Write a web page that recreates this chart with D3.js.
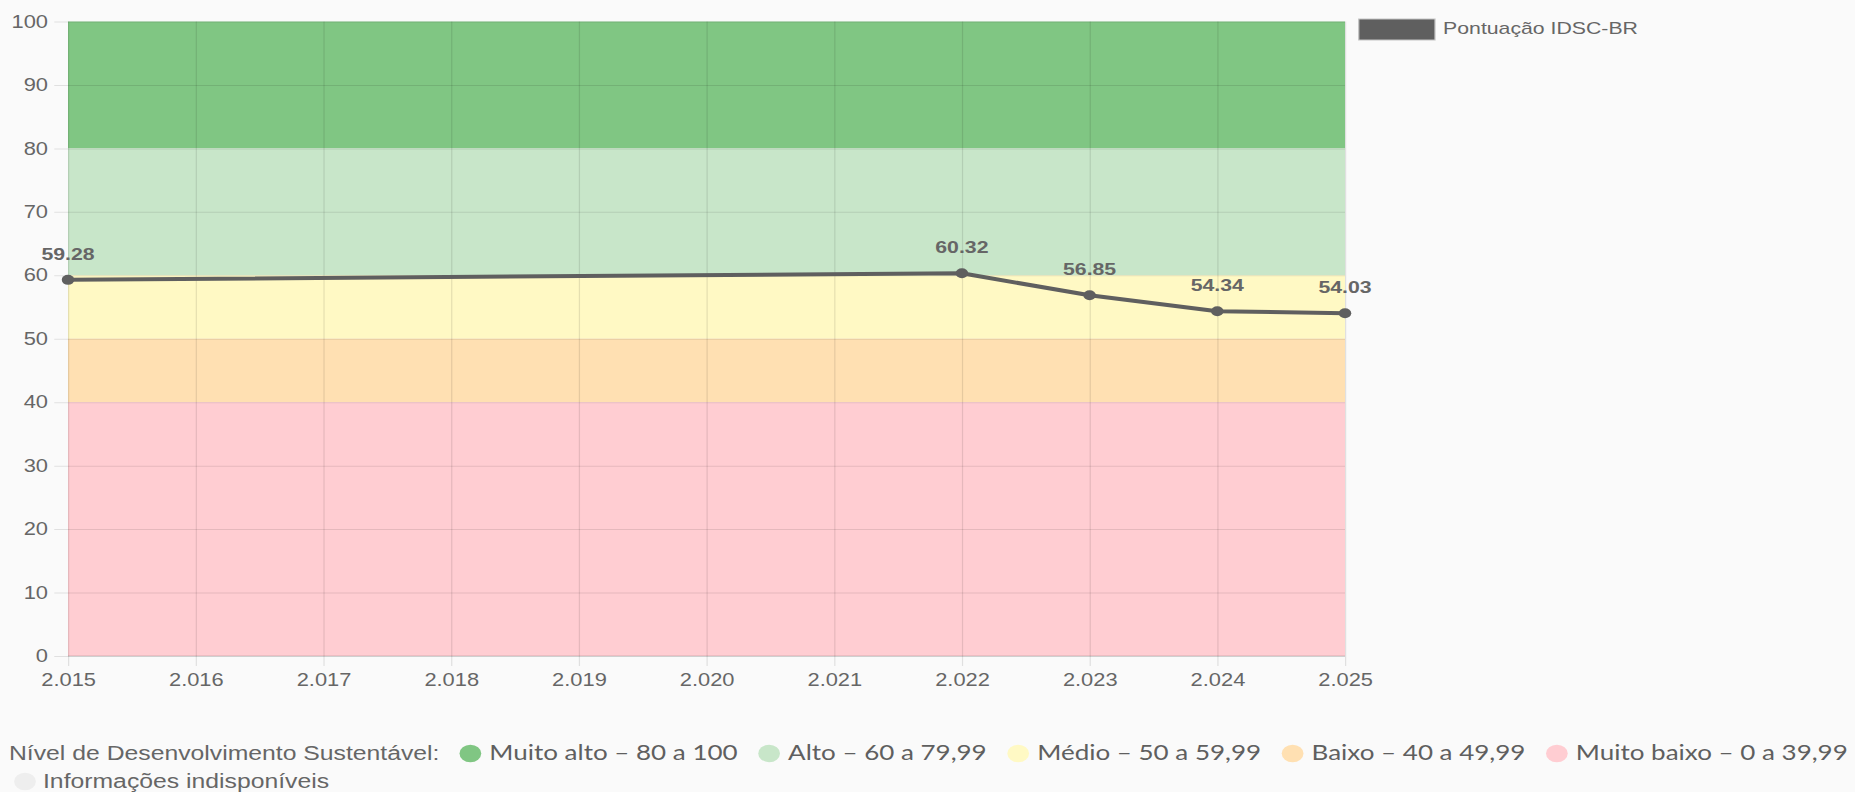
<!DOCTYPE html>
<html>
<head>
<meta charset="utf-8">
<script src="https://cdn.jsdelivr.net/npm/d3@7"></script>
<style>
body { margin: 0; background: #fafafa; overflow: hidden; }
</style>
</head>
<body>
<div id="chart"></div>
<script>
// data
var years = [2015, 2016, 2017, 2018, 2019, 2020, 2021, 2022, 2023, 2024, 2025]
var scores = [59.28, null, null, null, null, null, null, 60.32, 56.85, 54.34, 54.03]
var yTicks = [0, 10, 20, 30, 40, 50, 60, 70, 80, 90, 100]
var bandNames = ["Muito alto", "Alto", "Médio", "Baixo", "Muito baixo"]
var bandFrom = [80, 60, 50, 40, 0]
var bandTo = [100, 80, 60, 50, 40]
var bandRanges = ["80 a 100", "60 a 79,99", "50 a 59,99", "40 a 49,99", "0 a 39,99"]
var seriesName = "Pontuação IDSC-BR"
var legendTitle = "Nível de Desenvolvimento Sustentável:"
var missingLabel = "Informações indisponíveis"

var bandColors = ["#80c683", "#c8e6c9", "#fff9c4", "#ffe0b2", "#ffcdd2"]
var missingColor = "#eeeeee"
var lineColor = "#5f5f5f"

// the reference is stretched sideways, so draw in a narrower viewBox and let it stretch
var width = 1855, height = 792, stretch = 1.25
var vw = width / stretch
var plotL = 54.4, plotR = 1076, plotT = 21.5, plotB = 656

var svg = d3.select("#chart")
  .append("svg")
    .attr("width", width)
    .attr("height", height)
    .attr("viewBox", "0 0 " + vw + " " + height)
    .attr("preserveAspectRatio", "none")

var x = d3.scaleLinear().domain([years[0], years[years.length - 1]]).range([plotL, plotR])
var y = d3.scaleLinear().domain([0, 100]).range([plotB, plotT])

var ptBR = d3.formatLocale({decimal: ",", thousands: ".", grouping: [3], currency: ["R$", ""]})
var yearFmt = ptBR.format(",d")

// colour bands
svg.selectAll("rect.band")
  .data(bandFrom)
  .join("rect")
    .attr("class", "band")
    .attr("x", x(years[0]))
    .attr("width", x(years[years.length - 1]) - x(years[0]))
    .attr("y", function(d, i) { return y(bandTo[i]) })
    .attr("height", function(d, i) { return y(d) - y(bandTo[i]) })
    .attr("fill", function(d, i) { return bandColors[i] })

var axisFont = "'Liberation Sans', Arial, Helvetica, sans-serif"

// y axis + horizontal grid
var gy = svg.append("g")
  .attr("transform", "translate(" + plotL + ",0)")
  .call(d3.axisLeft(y).tickValues(yTicks).tickSizeInner(-(plotR - plotL)).tickSizeOuter(0).tickPadding(16))
gy.select(".domain").remove()
gy.selectAll(".tick line")
  .attr("x1", -11)
  .attr("stroke", "rgba(0,0,0,0.1)")
gy.selectAll(".tick text")
  .attr("fill", "#666")
  .style("font-family", axisFont)
  .style("font-size", "17.5px")

// x axis + vertical grid
var gx = svg.append("g")
  .attr("transform", "translate(0," + plotB + ")")
  .call(d3.axisBottom(x).tickValues(years).tickFormat(yearFmt).tickSizeInner(-(plotB - plotT)).tickSizeOuter(0).tickPadding(18))
gx.select(".domain").remove()
gx.selectAll(".tick line")
  .attr("y1", 10)
  .attr("stroke", "rgba(0,0,0,0.1)")
gx.selectAll(".tick text")
  .attr("fill", "#666")
  .style("font-family", axisFont)
  .style("font-size", "17.5px")

svg.append("line")
  .attr("x1", plotL).attr("x2", plotR)
  .attr("y1", plotB).attr("y2", plotB)
  .attr("stroke", "rgba(0,0,0,0.15)")

// series, skipping the missing years
var points = years.map(function(yr, i) { return {year: yr, value: scores[i]} })
  .filter(function(d) { return d.value != null })

svg.append("path")
  .datum(points)
  .attr("fill", "none")
  .attr("stroke", lineColor)
  .attr("stroke-width", 4)
  .attr("stroke-linejoin", "round")
  .attr("d", d3.line().x(function(d) { return x(d.year) }).y(function(d) { return y(d.value) }))

svg.selectAll("circle.pt")
  .data(points)
  .join("circle")
    .attr("class", "pt")
    .attr("cx", function(d) { return x(d.year) })
    .attr("cy", function(d) { return y(d.value) })
    .attr("r", 5)
    .attr("fill", lineColor)

svg.selectAll("text.val")
  .data(points)
  .join("text")
    .attr("class", "val")
    .attr("x", function(d) { return x(d.year) })
    .attr("y", function(d) { return y(d.value) - 20 })
    .attr("text-anchor", "middle")
    .attr("fill", "#666")
    .style("font-family", axisFont)
    .style("font-size", "17px")
    .style("font-weight", "bold")
    .text(function(d) { return d.value.toFixed(2) })

// series legend, top right
svg.append("rect")
  .attr("x", 1087).attr("y", 19)
  .attr("width", 61).attr("height", 21)
  .attr("fill", lineColor)
  .attr("stroke", "#c4c4c4")
  .attr("stroke-width", 1)
svg.append("text")
  .attr("x", 1154.5).attr("y", 34)
  .attr("fill", "#666")
  .style("font-family", axisFont)
  .style("font-size", "17px")
  .text(seriesName)

// level legend at the bottom
var itemFont = "Lato, 'Open Sans', sans-serif"
var row1 = 760, row2 = 788, r = 8.7
var title = svg.append("text")
  .attr("x", 7.2).attr("y", row1)
  .attr("fill", "#666")
  .style("font-family", axisFont)
  .style("font-size", "19.8px")
  .text(legendTitle)

var cursor = 7.2 + title.node().getComputedTextLength() + 16
bandNames.forEach(function(name, i) {
  svg.append("circle")
    .attr("cx", cursor + r).attr("cy", row1 - 6.5)
    .attr("r", r)
    .attr("fill", bandColors[i])
  var t = svg.append("text")
    .attr("x", cursor + 2 * r + 6.5).attr("y", row1)
    .attr("fill", "#5f5f5f")
    .style("font-family", itemFont)
    .style("font-size", "20.8px")
    .text(name + " – " + bandRanges[i])
  cursor = cursor + 2 * r + 6.5 + t.node().getComputedTextLength() + 16.5
})

svg.append("circle")
  .attr("cx", 20).attr("cy", row2 - 6.5)
  .attr("r", r)
  .attr("fill", missingColor)
svg.append("text")
  .attr("x", 34.4).attr("y", row2)
  .attr("fill", "#666")
  .style("font-family", axisFont)
  .style("font-size", "19.8px")
  .text(missingLabel)
</script>
</body>
</html>
